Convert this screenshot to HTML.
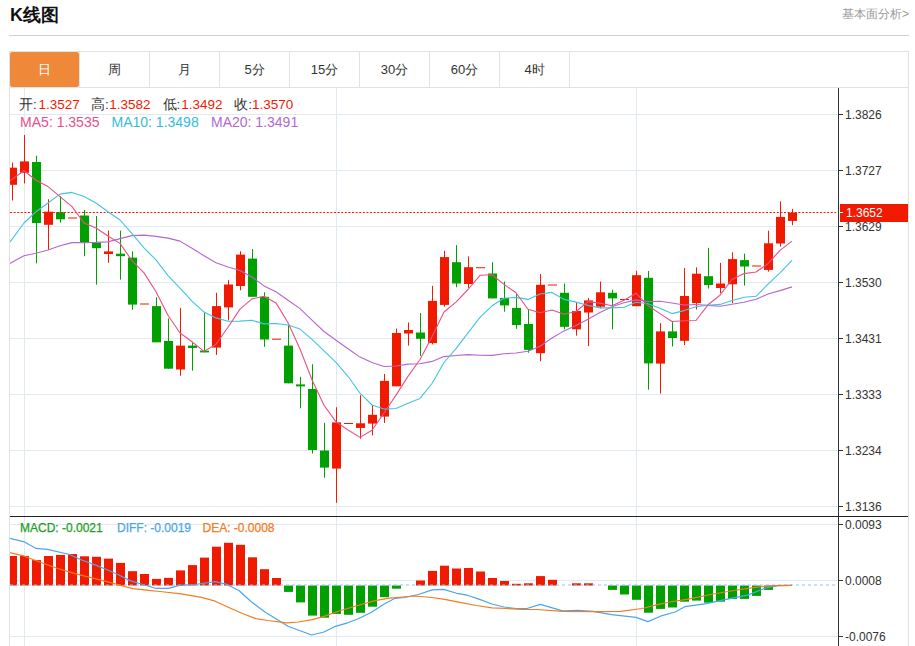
<!DOCTYPE html>
<html><head><meta charset="utf-8"><style>
html,body{margin:0;padding:0;background:#fff;}
body{width:915px;height:646px;position:relative;overflow:hidden;font-family:"Liberation Sans",sans-serif;}
.t{position:absolute;white-space:nowrap;}
svg text{font-family:"Liberation Sans",sans-serif;}
.ax{font-size:12px;fill:#333;}
.tab{position:absolute;top:52px;height:35px;width:70px;text-align:center;line-height:35px;font-size:13px;color:#333;}
</style></head><body>
<div class="t" style="left:10px;top:3px;font-size:18px;font-weight:bold;color:#111;">K线图</div>
<div class="t" style="left:842px;top:6px;font-size:12px;color:#999;">基本面分析&gt;</div>
<div style="position:absolute;left:9px;top:35px;width:900px;height:1px;background:#d0d0d0"></div>
<div style="position:absolute;left:9px;top:51px;width:900px;height:37px;border-top:1px solid #e2e2e2;border-bottom:1px solid #e2e2e2;border-left:1px solid #e2e2e2;border-right:1px solid #e2e2e2;box-sizing:border-box"></div>
<div class="tab" style="left:10px;width:69px;background:#f0883a;color:#fff;border-radius:2px">日</div>
<div class="tab" style="left:80px;width:69px">周</div>
<div class="tab" style="left:150px;width:69px">月</div>
<div class="tab" style="left:220px;width:69px">5分</div>
<div class="tab" style="left:290px;width:69px">15分</div>
<div class="tab" style="left:360px;width:69px">30分</div>
<div class="tab" style="left:430px;width:69px">60分</div>
<div class="tab" style="left:500px;width:69px">4时</div>
<div style="position:absolute;left:79px;top:52px;width:1px;height:35px;background:#e2e2e2"></div>
<div style="position:absolute;left:149px;top:52px;width:1px;height:35px;background:#e2e2e2"></div>
<div style="position:absolute;left:219px;top:52px;width:1px;height:35px;background:#e2e2e2"></div>
<div style="position:absolute;left:289px;top:52px;width:1px;height:35px;background:#e2e2e2"></div>
<div style="position:absolute;left:359px;top:52px;width:1px;height:35px;background:#e2e2e2"></div>
<div style="position:absolute;left:429px;top:52px;width:1px;height:35px;background:#e2e2e2"></div>
<div style="position:absolute;left:499px;top:52px;width:1px;height:35px;background:#e2e2e2"></div>
<div style="position:absolute;left:569px;top:52px;width:1px;height:35px;background:#e2e2e2"></div>
<div style="position:absolute;left:9px;top:87px;width:1px;height:559px;background:#e2e2e2"></div>
<div style="position:absolute;left:908px;top:51px;width:1px;height:595px;background:#e2e2e2"></div>
<svg width="915" height="646" style="position:absolute;left:0;top:0" shape-rendering="auto">
<defs><clipPath id="clipMain"><rect x="10" y="88" width="828" height="428"/></clipPath>
<clipPath id="clipMacd"><rect x="10" y="517" width="828" height="129"/></clipPath></defs>
<rect x="10" y="114" width="828" height="1" fill="#e1eaf2"/>
<rect x="10" y="170" width="828" height="1" fill="#e1eaf2"/>
<rect x="10" y="226" width="828" height="1" fill="#e1eaf2"/>
<rect x="10" y="282" width="828" height="1" fill="#e1eaf2"/>
<rect x="10" y="338" width="828" height="1" fill="#e1eaf2"/>
<rect x="10" y="394" width="828" height="1" fill="#e1eaf2"/>
<rect x="10" y="450" width="828" height="1" fill="#e1eaf2"/>
<rect x="10" y="506" width="828" height="1" fill="#e1eaf2"/>
<rect x="10" y="524" width="828" height="1" fill="#e1eaf2"/>
<rect x="10" y="580" width="828" height="1" fill="#e1eaf2"/>
<rect x="10" y="636" width="828" height="1" fill="#e1eaf2"/>
<rect x="24" y="88" width="1" height="558" fill="#e1eaf2"/>
<rect x="336" y="88" width="1" height="558" fill="#e1eaf2"/>
<rect x="636" y="88" width="1" height="558" fill="#e1eaf2"/>
<g clip-path="url(#clipMain)"><rect x="12" y="162.7" width="1" height="37.7" fill="#f01a00"/><rect x="8" y="167.7" width="9" height="17.1" fill="#f01a00"/><rect x="24" y="135.0" width="1" height="48.3" fill="#f01a00"/><rect x="20" y="161.4" width="9" height="11.4" fill="#f01a00"/><rect x="36" y="155.7" width="1" height="107.6" fill="#00a000"/><rect x="32" y="162.0" width="9" height="61.0" fill="#00a000"/><rect x="48" y="199.2" width="1" height="50.8" fill="#f01a00"/><rect x="44" y="211.7" width="9" height="13.1" fill="#f01a00"/><rect x="60" y="196.0" width="1" height="26.5" fill="#00a000"/><rect x="56" y="212.2" width="9" height="7.1" fill="#00a000"/><rect x="68" y="217.50" width="9" height="1" fill="#f01a00"/><rect x="84" y="210.0" width="1" height="46.2" fill="#00a000"/><rect x="80" y="215.5" width="9" height="27.5" fill="#00a000"/><rect x="96" y="216.0" width="1" height="68.6" fill="#00a000"/><rect x="92" y="242.6" width="9" height="5.6" fill="#00a000"/><rect x="108" y="230.6" width="1" height="32.2" fill="#f01a00"/><rect x="104" y="251.4" width="9" height="2.6" fill="#f01a00"/><rect x="120" y="230.6" width="1" height="49.0" fill="#00a000"/><rect x="116" y="253.7" width="9" height="2.5" fill="#00a000"/><rect x="132" y="251.3" width="1" height="58.6" fill="#00a000"/><rect x="128" y="257.6" width="9" height="47.0" fill="#00a000"/><rect x="140" y="303.50" width="9" height="1" fill="#f01a00"/><rect x="156" y="297.3" width="1" height="45.0" fill="#00a000"/><rect x="152" y="306.1" width="9" height="36.2" fill="#00a000"/><rect x="168" y="318.4" width="1" height="50.3" fill="#00a000"/><rect x="164" y="341.0" width="9" height="27.7" fill="#00a000"/><rect x="180" y="307.9" width="1" height="67.8" fill="#f01a00"/><rect x="176" y="345.6" width="9" height="23.9" fill="#f01a00"/><rect x="192" y="343.0" width="1" height="27.7" fill="#00a000"/><rect x="188" y="345.6" width="9" height="2.4" fill="#00a000"/><rect x="204" y="312.9" width="1" height="39.5" fill="#00a000"/><rect x="200" y="350.6" width="9" height="1.8" fill="#00a000"/><rect x="216" y="292.8" width="1" height="62.1" fill="#f01a00"/><rect x="212" y="306.1" width="9" height="41.5" fill="#f01a00"/><rect x="228" y="280.2" width="1" height="40.2" fill="#f01a00"/><rect x="224" y="284.5" width="9" height="22.9" fill="#f01a00"/><rect x="240" y="251.3" width="1" height="39.0" fill="#f01a00"/><rect x="236" y="254.6" width="9" height="31.4" fill="#f01a00"/><rect x="252" y="249.0" width="1" height="47.8" fill="#00a000"/><rect x="248" y="258.6" width="9" height="38.2" fill="#00a000"/><rect x="264" y="292.3" width="1" height="54.5" fill="#00a000"/><rect x="260" y="296.8" width="9" height="42.7" fill="#00a000"/><rect x="272" y="338.70" width="9" height="1" fill="#f01a00"/><rect x="288" y="325.5" width="1" height="57.8" fill="#00a000"/><rect x="284" y="345.6" width="9" height="37.7" fill="#00a000"/><rect x="300" y="376.9" width="1" height="31.4" fill="#00a000"/><rect x="296" y="384.4" width="9" height="2.0" fill="#00a000"/><rect x="312" y="364.3" width="1" height="89.2" fill="#00a000"/><rect x="308" y="389.0" width="9" height="61.0" fill="#00a000"/><rect x="324" y="422.9" width="1" height="54.8" fill="#00a000"/><rect x="320" y="450.5" width="9" height="17.1" fill="#00a000"/><rect x="336" y="407.3" width="1" height="95.5" fill="#f01a00"/><rect x="332" y="422.4" width="9" height="46.2" fill="#f01a00"/><rect x="344" y="423.00" width="9" height="1" fill="#f01a00"/><rect x="360" y="395.2" width="1" height="43.5" fill="#f01a00"/><rect x="356" y="423.3" width="9" height="4.6" fill="#f01a00"/><rect x="372" y="404.8" width="1" height="30.6" fill="#f01a00"/><rect x="368" y="414.8" width="9" height="8.8" fill="#f01a00"/><rect x="384" y="373.9" width="1" height="49.0" fill="#f01a00"/><rect x="380" y="380.9" width="9" height="35.7" fill="#f01a00"/><rect x="396" y="328.5" width="1" height="57.8" fill="#f01a00"/><rect x="392" y="333.0" width="9" height="53.3" fill="#f01a00"/><rect x="408" y="322.5" width="1" height="23.1" fill="#f01a00"/><rect x="404" y="330.0" width="9" height="3.5" fill="#f01a00"/><rect x="420" y="313.0" width="1" height="43.0" fill="#00a000"/><rect x="416" y="332.5" width="9" height="6.3" fill="#00a000"/><rect x="432" y="285.8" width="1" height="58.6" fill="#f01a00"/><rect x="428" y="300.9" width="9" height="42.2" fill="#f01a00"/><rect x="444" y="250.9" width="1" height="55.8" fill="#f01a00"/><rect x="440" y="257.1" width="9" height="47.8" fill="#f01a00"/><rect x="456" y="245.1" width="1" height="42.2" fill="#00a000"/><rect x="452" y="262.2" width="9" height="21.3" fill="#00a000"/><rect x="468" y="256.4" width="1" height="31.4" fill="#f01a00"/><rect x="464" y="267.2" width="9" height="16.8" fill="#f01a00"/><rect x="476" y="267.20" width="9" height="1" fill="#f01a00"/><rect x="492" y="262.2" width="1" height="36.2" fill="#00a000"/><rect x="488" y="273.5" width="9" height="24.9" fill="#00a000"/><rect x="504" y="281.5" width="1" height="30.2" fill="#00a000"/><rect x="500" y="297.9" width="9" height="7.5" fill="#00a000"/><rect x="516" y="294.1" width="1" height="34.7" fill="#00a000"/><rect x="512" y="307.9" width="9" height="17.1" fill="#00a000"/><rect x="528" y="309.2" width="1" height="43.5" fill="#00a000"/><rect x="524" y="324.0" width="9" height="25.9" fill="#00a000"/><rect x="540" y="274.0" width="1" height="87.2" fill="#f01a00"/><rect x="536" y="284.8" width="9" height="68.4" fill="#f01a00"/><rect x="548" y="284.50" width="9" height="1" fill="#f01a00"/><rect x="564" y="283.5" width="1" height="45.8" fill="#00a000"/><rect x="560" y="292.8" width="9" height="34.0" fill="#00a000"/><rect x="576" y="302.9" width="1" height="32.7" fill="#f01a00"/><rect x="572" y="311.0" width="9" height="18.3" fill="#f01a00"/><rect x="588" y="297.9" width="1" height="48.2" fill="#f01a00"/><rect x="584" y="300.4" width="9" height="12.1" fill="#f01a00"/><rect x="600" y="281.5" width="1" height="26.9" fill="#f01a00"/><rect x="596" y="292.3" width="9" height="14.4" fill="#f01a00"/><rect x="612" y="289.8" width="1" height="39.5" fill="#00a000"/><rect x="608" y="292.8" width="9" height="5.6" fill="#00a000"/><rect x="620" y="299.00" width="9" height="1" fill="#f01a00"/><rect x="636" y="270.7" width="1" height="35.5" fill="#f01a00"/><rect x="632" y="275.2" width="9" height="31.0" fill="#f01a00"/><rect x="648" y="271.0" width="1" height="118.7" fill="#00a000"/><rect x="644" y="277.8" width="9" height="85.6" fill="#00a000"/><rect x="660" y="323.1" width="1" height="70.4" fill="#f01a00"/><rect x="656" y="331.4" width="9" height="32.2" fill="#f01a00"/><rect x="672" y="322.1" width="1" height="24.4" fill="#00a000"/><rect x="668" y="331.4" width="9" height="6.6" fill="#00a000"/><rect x="684" y="268.0" width="1" height="77.0" fill="#f01a00"/><rect x="680" y="296.0" width="9" height="44.8" fill="#f01a00"/><rect x="696" y="267.4" width="1" height="42.0" fill="#f01a00"/><rect x="692" y="273.7" width="9" height="29.4" fill="#f01a00"/><rect x="708" y="247.8" width="1" height="40.7" fill="#00a000"/><rect x="704" y="276.2" width="9" height="8.8" fill="#00a000"/><rect x="720" y="262.9" width="1" height="30.2" fill="#f01a00"/><rect x="716" y="283.5" width="9" height="4.5" fill="#f01a00"/><rect x="732" y="252.3" width="1" height="50.8" fill="#f01a00"/><rect x="728" y="259.1" width="9" height="25.2" fill="#f01a00"/><rect x="744" y="253.6" width="1" height="31.9" fill="#00a000"/><rect x="740" y="260.1" width="9" height="6.4" fill="#00a000"/><rect x="752" y="265.50" width="9" height="1" fill="#f01a00"/><rect x="768" y="230.7" width="1" height="41.0" fill="#f01a00"/><rect x="764" y="243.3" width="9" height="26.6" fill="#f01a00"/><rect x="780" y="201.3" width="1" height="45.3" fill="#f01a00"/><rect x="776" y="216.9" width="9" height="26.6" fill="#f01a00"/><rect x="792" y="208.9" width="1" height="16.3" fill="#f01a00"/><rect x="788" y="212.6" width="9" height="8.3" fill="#f01a00"/></g>
<line x1="10" y1="212.5" x2="836" y2="212.5" stroke="#f01a00" stroke-width="1" stroke-dasharray="2 1.6"/>
<g clip-path="url(#clipMain)"><polyline points="0.0,268.8 12.0,262.2 24.0,255.7 36.0,253.2 48.0,250.0 60.0,245.7 72.0,242.6 84.0,242.6 96.0,242.4 108.0,241.9 120.0,238.6 132.0,235.6 144.0,235.1 156.0,236.4 168.0,238.1 180.0,241.1 192.0,248.2 204.0,255.7 216.0,262.8 228.0,267.0 240.0,270.5 252.0,277.0 264.0,285.9 276.0,291.7 288.0,300.3 300.0,308.6 312.0,320.2 324.0,331.5 336.0,340.2 348.0,348.8 360.0,357.1 372.0,362.6 384.0,366.5 396.0,366.0 408.0,364.1 420.0,363.8 432.0,361.4 444.0,356.6 456.0,355.5 468.0,354.6 480.0,355.3 492.0,355.4 504.0,353.7 516.0,353.0 528.0,351.3 540.0,346.2 552.0,338.0 564.0,330.9 576.0,325.4 588.0,319.2 600.0,312.6 612.0,306.8 624.0,302.8 636.0,299.9 648.0,301.5 660.0,301.2 672.0,303.0 684.0,305.0 696.0,304.5 708.0,305.4 720.0,306.2 732.0,304.2 744.0,302.2 756.0,299.3 768.0,294.0 780.0,290.6 792.0,286.9" fill="none" stroke="#b467d0" stroke-width="1.1" stroke-linejoin="round"/><polyline points="0.0,255.0 12.0,239.3 24.0,223.0 36.0,211.7 48.0,203.0 60.0,194.1 72.0,192.4 84.0,196.6 96.0,203.0 108.0,211.7 120.0,220.0 132.0,233.7 144.0,247.9 156.0,259.9 168.0,275.6 180.0,288.2 192.0,301.2 204.0,312.1 216.0,317.9 228.0,321.2 240.0,321.1 252.0,320.3 264.0,323.9 276.0,323.5 288.0,325.0 300.0,329.1 312.0,339.3 324.0,350.8 336.0,362.4 348.0,376.3 360.0,393.2 372.0,405.0 384.0,409.1 396.0,408.5 408.0,403.2 420.0,398.4 432.0,383.5 444.0,362.5 456.0,348.6 468.0,332.9 480.0,317.4 492.0,305.8 504.0,298.2 516.0,297.4 528.0,299.4 540.0,294.0 552.0,292.4 564.0,299.4 576.0,302.1 588.0,305.4 600.0,307.9 612.0,307.9 624.0,307.3 636.0,302.3 648.0,303.7 660.0,308.3 672.0,313.6 684.0,310.6 696.0,306.8 708.0,305.3 720.0,304.4 732.0,300.5 744.0,297.2 756.0,296.3 768.0,284.2 780.0,272.8 792.0,260.3" fill="none" stroke="#40c4e4" stroke-width="1.1" stroke-linejoin="round"/><polyline points="0.0,188.0 12.0,179.4 24.0,170.8 36.0,180.3 48.0,186.6 60.0,196.6 72.0,206.7 84.0,223.0 96.0,228.0 108.0,236.0 120.0,243.4 132.0,260.7 144.0,272.9 156.0,291.7 168.0,315.2 180.0,333.0 192.0,341.7 204.0,351.4 216.0,344.2 228.0,327.3 240.0,309.1 252.0,298.9 264.0,296.3 276.0,302.9 288.0,322.7 300.0,349.0 312.0,379.7 324.0,405.3 336.0,421.9 348.0,430.0 360.0,437.4 372.0,430.3 384.0,413.0 396.0,395.1 408.0,376.4 420.0,359.5 432.0,336.7 444.0,312.0 456.0,302.1 468.0,289.5 480.0,275.3 492.0,274.8 504.0,284.4 516.0,292.7 528.0,309.3 540.0,312.7 552.0,310.0 564.0,314.3 576.0,311.5 588.0,301.6 600.0,303.1 612.0,305.8 624.0,300.3 636.0,293.2 648.0,305.8 660.0,313.6 672.0,321.5 684.0,320.8 696.0,320.5 708.0,304.8 720.0,295.2 732.0,279.5 744.0,273.6 756.0,272.0 768.0,263.7 780.0,250.4 792.0,241.1" fill="none" stroke="#e85088" stroke-width="1.1" stroke-linejoin="round"/></g>
<g clip-path="url(#clipMacd)"><rect x="8" y="556.0" width="9" height="29.5" fill="#f01a00"/><rect x="20" y="556.0" width="9" height="29.5" fill="#f01a00"/><rect x="32" y="560.1" width="9" height="25.4" fill="#f01a00"/><rect x="44" y="556.0" width="9" height="29.5" fill="#f01a00"/><rect x="56" y="554.9" width="9" height="30.6" fill="#f01a00"/><rect x="68" y="554.0" width="9" height="31.5" fill="#f01a00"/><rect x="80" y="556.3" width="9" height="29.2" fill="#f01a00"/><rect x="92" y="556.8" width="9" height="28.7" fill="#f01a00"/><rect x="104" y="558.6" width="9" height="26.9" fill="#f01a00"/><rect x="116" y="562.9" width="9" height="22.6" fill="#f01a00"/><rect x="128" y="571.2" width="9" height="14.3" fill="#f01a00"/><rect x="140" y="574.0" width="9" height="11.5" fill="#f01a00"/><rect x="152" y="578.9" width="9" height="6.6" fill="#f01a00"/><rect x="164" y="577.9" width="9" height="7.6" fill="#f01a00"/><rect x="176" y="570.4" width="9" height="15.1" fill="#f01a00"/><rect x="188" y="565.1" width="9" height="20.4" fill="#f01a00"/><rect x="200" y="557.6" width="9" height="27.9" fill="#f01a00"/><rect x="212" y="546.7" width="9" height="38.8" fill="#f01a00"/><rect x="224" y="542.8" width="9" height="42.7" fill="#f01a00"/><rect x="236" y="544.8" width="9" height="40.7" fill="#f01a00"/><rect x="248" y="557.3" width="9" height="28.2" fill="#f01a00"/><rect x="260" y="569.2" width="9" height="16.3" fill="#f01a00"/><rect x="272" y="578.0" width="9" height="7.5" fill="#f01a00"/><rect x="284" y="585.5" width="9" height="6.4" fill="#00a000"/><rect x="296" y="585.5" width="9" height="16.9" fill="#00a000"/><rect x="308" y="585.5" width="9" height="30.1" fill="#00a000"/><rect x="320" y="585.5" width="9" height="32.2" fill="#00a000"/><rect x="332" y="585.5" width="9" height="28.4" fill="#00a000"/><rect x="344" y="585.5" width="9" height="29.3" fill="#00a000"/><rect x="356" y="585.5" width="9" height="27.3" fill="#00a000"/><rect x="368" y="585.5" width="9" height="21.2" fill="#00a000"/><rect x="380" y="585.5" width="9" height="11.7" fill="#00a000"/><rect x="392" y="585.5" width="9" height="3.2" fill="#00a000"/><rect x="416" y="580.5" width="9" height="5.0" fill="#f01a00"/><rect x="428" y="570.9" width="9" height="14.6" fill="#f01a00"/><rect x="440" y="565.7" width="9" height="19.8" fill="#f01a00"/><rect x="452" y="568.5" width="9" height="17.0" fill="#f01a00"/><rect x="464" y="568.0" width="9" height="17.5" fill="#f01a00"/><rect x="476" y="571.5" width="9" height="14.0" fill="#f01a00"/><rect x="488" y="578.0" width="9" height="7.5" fill="#f01a00"/><rect x="500" y="581.0" width="9" height="4.5" fill="#f01a00"/><rect x="512" y="583.8" width="9" height="1.7" fill="#f01a00"/><rect x="524" y="583.3" width="9" height="2.2" fill="#f01a00"/><rect x="536" y="576.1" width="9" height="9.4" fill="#f01a00"/><rect x="548" y="579.8" width="9" height="5.7" fill="#f01a00"/><rect x="572" y="583.3" width="9" height="2.2" fill="#f01a00"/><rect x="584" y="583.3" width="9" height="2.2" fill="#f01a00"/><rect x="608" y="585.5" width="9" height="4.4" fill="#00a000"/><rect x="620" y="585.5" width="9" height="9.0" fill="#00a000"/><rect x="632" y="585.5" width="9" height="14.3" fill="#00a000"/><rect x="644" y="585.5" width="9" height="27.2" fill="#00a000"/><rect x="656" y="585.5" width="9" height="23.4" fill="#00a000"/><rect x="668" y="585.5" width="9" height="22.0" fill="#00a000"/><rect x="680" y="585.5" width="9" height="16.2" fill="#00a000"/><rect x="692" y="585.5" width="9" height="15.1" fill="#00a000"/><rect x="704" y="585.5" width="9" height="17.2" fill="#00a000"/><rect x="716" y="585.5" width="9" height="16.2" fill="#00a000"/><rect x="728" y="585.5" width="9" height="13.4" fill="#00a000"/><rect x="740" y="585.5" width="9" height="13.4" fill="#00a000"/><rect x="752" y="585.5" width="9" height="10.4" fill="#00a000"/><rect x="764" y="585.5" width="9" height="4.4" fill="#00a000"/></g>
<line x1="10" y1="585" x2="836" y2="585" stroke="#8cc8ec" stroke-width="1" stroke-dasharray="3 3"/>
<g clip-path="url(#clipMacd)"><polyline points="8.0,538.0 24.5,541.9 36.0,548.4 47.4,549.4 69.6,554.5 81.0,559.8 95.0,564.9 107.0,569.8 119.0,575.0 130.0,580.6 140.2,583.7 155.5,588.3 168.3,588.3 179.4,585.4 194.7,584.5 215.2,581.6 226.2,584.2 239.0,590.5 250.9,601.5 264.6,611.8 288.0,626.3 311.7,635.0 323.9,632.0 335.4,626.3 347.6,622.8 358.3,618.7 370.6,612.8 384.3,604.0 395.0,598.3 405.0,597.5 418.4,594.5 432.1,589.9 443.6,589.4 456.6,593.3 467.3,595.2 479.6,599.4 491.8,604.0 504.0,607.0 516.3,608.5 527.0,608.5 540.4,604.4 562.5,610.8 577.8,610.4 593.1,611.3 611.5,614.7 636.0,617.4 647.9,621.6 660.5,616.2 675.0,612.0 684.9,606.7 706.3,603.7 726.2,599.4 747.6,595.1 766.0,587.9 778.2,585.6 792.0,585.3" fill="none" stroke="#4aa6ec" stroke-width="1.2" stroke-linejoin="round"/><polyline points="8.0,552.0 24.5,556.2 40.2,562.3 57.7,568.5 75.2,573.7 92.7,578.1 110.1,582.4 122.4,586.0 132.9,588.6 148.6,590.3 160.0,591.5 181.0,593.9 201.5,597.3 215.2,601.2 228.8,607.5 242.4,613.5 256.0,618.6 268.0,620.5 286.4,622.8 298.7,622.0 312.4,619.7 326.2,615.6 338.4,611.3 350.7,607.5 362.9,604.0 375.2,600.6 387.4,598.3 402.0,597.0 415.3,596.0 432.1,597.5 445.9,599.7 461.2,602.7 476.5,605.5 491.8,607.8 507.1,608.5 522.4,609.3 537.0,609.5 562.5,611.3 596.2,611.6 620.7,611.3 642.1,608.5 657.4,604.7 670.0,602.0 688.0,599.1 710.9,594.5 733.8,590.5 756.8,587.1 775.2,585.6 792.0,585.3" fill="none" stroke="#f47b20" stroke-width="1.2" stroke-linejoin="round"/></g>
<rect x="838" y="88" width="1" height="558" fill="#333"/>
<rect x="10" y="516" width="898" height="1" fill="#222"/>
<rect x="839" y="114" width="4" height="1" fill="#333"/>
<text x="845" y="118.5" class="ax">1.3826</text>
<rect x="839" y="170" width="4" height="1" fill="#333"/>
<text x="845" y="174.5" class="ax">1.3727</text>
<rect x="839" y="226" width="4" height="1" fill="#333"/>
<text x="845" y="230.5" class="ax">1.3629</text>
<rect x="839" y="282" width="4" height="1" fill="#333"/>
<text x="845" y="286.5" class="ax">1.3530</text>
<rect x="839" y="338" width="4" height="1" fill="#333"/>
<text x="845" y="342.5" class="ax">1.3431</text>
<rect x="839" y="394" width="4" height="1" fill="#333"/>
<text x="845" y="398.5" class="ax">1.3333</text>
<rect x="839" y="450" width="4" height="1" fill="#333"/>
<text x="845" y="454.5" class="ax">1.3234</text>
<rect x="839" y="506" width="4" height="1" fill="#333"/>
<text x="845" y="510.5" class="ax">1.3136</text>
<rect x="839" y="524" width="4" height="1" fill="#333"/>
<text x="845" y="528.5" class="ax">0.0093</text>
<rect x="839" y="580" width="4" height="1" fill="#333"/>
<text x="845" y="584.5" class="ax">0.0008</text>
<rect x="839" y="636" width="4" height="1" fill="#333"/>
<text x="845" y="640.5" class="ax">-0.0076</text>
<rect x="840" y="204" width="68" height="18" fill="#f01a00"/>
<rect x="839" y="212" width="4" height="1" fill="#fff"/>
<text x="846" y="217" font-size="12" style="fill:#fff">1.3652</text>
</svg>
<svg width="915" height="646" style="position:absolute;left:0;top:0">
<g font-size="13.5" fill="#333">
<text x="19" y="109">开:</text><text x="38.5" y="109" fill="#f01a00">1.3527</text>
<text x="91" y="109">高:</text><text x="109.2" y="109" fill="#f01a00">1.3582</text>
<text x="162.5" y="109">低:</text><text x="181.3" y="109" fill="#f01a00">1.3492</text>
<text x="234.2" y="109">收:</text><text x="252" y="109" fill="#f01a00">1.3570</text>
</g>
<g font-size="14">
<text x="20.1" y="127" fill="#e85088">MA5: 1.3535</text>
<text x="111.5" y="127" fill="#36bcd8">MA10: 1.3498</text>
<text x="211" y="127" fill="#b467d0">MA20: 1.3491</text>
</g>
<g font-size="12" style="paint-order:stroke" stroke-width="0.25">
<text x="20" y="531.5" fill="#1aa01a" stroke="#1aa01a">MACD: -0.0021</text>
<text x="117" y="531.5" fill="#4aa6ec" stroke="#4aa6ec">DIFF: -0.0019</text>
<text x="202.5" y="531.5" fill="#f47b20" stroke="#f47b20">DEA: -0.0008</text>
</g>
</svg>
</body></html>
